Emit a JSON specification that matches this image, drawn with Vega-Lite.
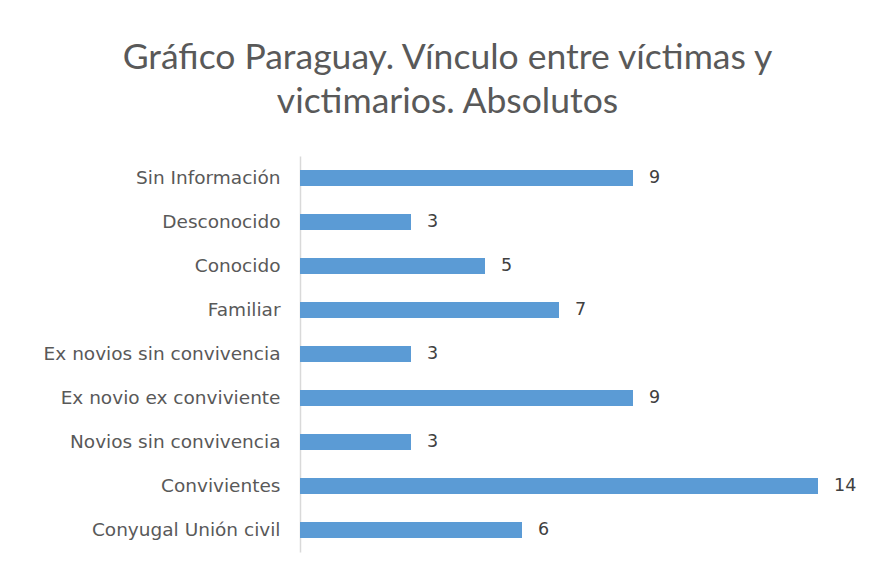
{
  "$schema": "https://vega.github.io/schema/vega-lite/v6.json",
  "width": 555,
  "height": 396,
  "autosize": {"type": "none"},
  "padding": {"left": 300, "top": 156, "right": 14, "bottom": 26},
  "background": "white",
  "title": {
    "text": ["Gráfico Paraguay. Vínculo entre víctimas y", "victimarios. Absolutos"],
    "anchor": "middle",
    "frame": "group",
    "dx": -130,
    "offset": 36,
    "font": "Lato",
    "fontSize": 35.5,
    "fontWeight": "normal",
    "color": "#595959",
    "lineHeight": 44
  },
  "data": {
    "values": [
      {"vinculo": "Sin Información", "n": 9},
      {"vinculo": "Desconocido", "n": 3},
      {"vinculo": "Conocido", "n": 5},
      {"vinculo": "Familiar", "n": 7},
      {"vinculo": "Ex novios sin convivencia", "n": 3},
      {"vinculo": "Ex novio ex conviviente", "n": 9},
      {"vinculo": "Novios sin convivencia", "n": 3},
      {"vinculo": "Convivientes", "n": 14},
      {"vinculo": "Conyugal Unión civil", "n": 6}
    ]
  },
  "encoding": {
    "y": {
      "field": "vinculo",
      "type": "nominal",
      "sort": null,
      "scale": {"paddingInner": 0.64, "paddingOuter": 0.32},
      "axis": {
        "title": null,
        "ticks": false,
        "labelPadding": 20,
        "labelLimit": 300,
        "labelFont": "DejaVu Sans",
        "labelFontSize": 18.5,
        "labelColor": "#595959",
        "domainColor": "#D9D9D9",
        "domainWidth": 1.5
      }
    },
    "x": {
      "field": "n",
      "type": "quantitative",
      "scale": {"domain": [0, 15]},
      "axis": null
    }
  },
  "layer": [
    {"mark": {"type": "bar", "color": "#5B9BD5"}},
    {
      "mark": {"type": "text", "align": "left", "dx": 16, "font": "DejaVu Sans", "fontSize": 17.5, "color": "#404040"},
      "encoding": {"text": {"field": "n", "type": "quantitative"}}
    }
  ],
  "config": {"view": {"stroke": null}}
}
